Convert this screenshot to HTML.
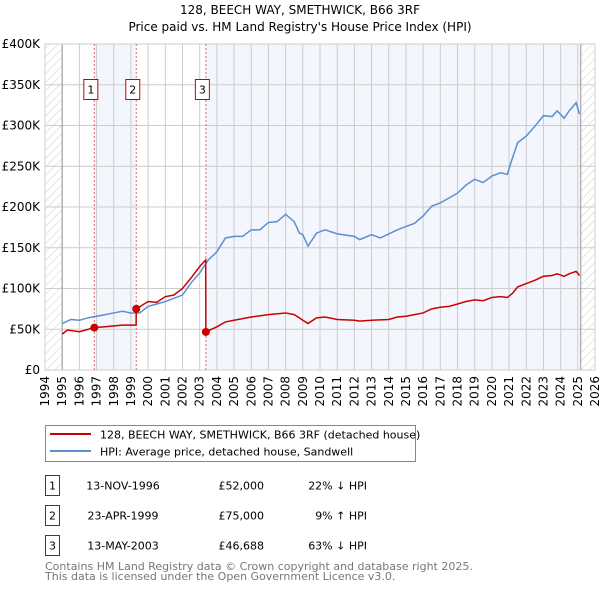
<!DOCTYPE html>
<html><head><meta charset="utf-8">
<style>
body{margin:0;background:#fff;font-family:"DejaVu Sans","Liberation Sans",sans-serif;}
svg text{font-family:"DejaVu Sans","Liberation Sans",sans-serif;}
</style></head>
<body>
<svg id="chart" width="600" height="590" xmlns="http://www.w3.org/2000/svg">
<defs>
<pattern id="hatch" width="6" height="6" patternUnits="userSpaceOnUse" patternTransform="rotate(45)">
<line x1="0" y1="0" x2="0" y2="6" stroke="#ccc" stroke-width="1"/>
</pattern>
</defs>
<text x="300" y="14" text-anchor="middle" font-size="12">128, BEECH WAY, SMETHWICK, B66 3RF</text>
<text x="300" y="31" text-anchor="middle" font-size="12">Price paid vs. HM Land Registry's House Price Index (HPI)</text>
<g id="plot"></g>
<g>
<rect x="45.5" y="425.5" width="370" height="36" fill="#fff" stroke="#888"/>
<line x1="50" y1="434" x2="91" y2="434" stroke="#cc0000" stroke-width="2"/>
<text x="100" y="438.5" font-size="11">128, BEECH WAY, SMETHWICK, B66 3RF (detached house)</text>
<line x1="50" y1="451" x2="91" y2="451" stroke="#5b8fd4" stroke-width="2"/>
<text x="100" y="455.5" font-size="11">HPI: Average price, detached house, Sandwell</text>
</g>
<g font-size="11">
<rect x="45.5" y="475.5" width="14" height="20" fill="#fff" stroke="#c00"/>
<text x="52.5" y="489.5" text-anchor="middle">1</text>
<text x="123" y="489.5" text-anchor="middle">13-NOV-1996</text>
<text x="264" y="489.5" text-anchor="end">£52,000</text>
<text x="367" y="489.5" text-anchor="end">22% ↓ HPI</text>
<rect x="45.5" y="505.5" width="14" height="20" fill="#fff" stroke="#c00"/>
<text x="52.5" y="519.5" text-anchor="middle">2</text>
<text x="123" y="519.5" text-anchor="middle">23-APR-1999</text>
<text x="264" y="519.5" text-anchor="end">£75,000</text>
<text x="367" y="519.5" text-anchor="end">9% ↑ HPI</text>
<rect x="45.5" y="535.5" width="14" height="20" fill="#fff" stroke="#c00"/>
<text x="52.5" y="549.5" text-anchor="middle">3</text>
<text x="123" y="549.5" text-anchor="middle">13-MAY-2003</text>
<text x="264" y="549.5" text-anchor="end">£46,688</text>
<text x="367" y="549.5" text-anchor="end">63% ↓ HPI</text>
</g>
<text x="45" y="570" font-size="11" fill="#777">Contains HM Land Registry data © Crown copyright and database right 2025.</text>
<text x="45" y="580" font-size="11" fill="#777">This data is licensed under the Open Government Licence v3.0.</text>
</svg>
<script>
const yTicks=[0,50,100,150,200,250,300,350,400];
const yTickLabels=["£0","£50K","£100K","£150K","£200K","£250K","£300K","£350K","£400K"];
const xYears=[1994,1995,1996,1997,1998,1999,2000,2001,2002,2003,2004,2005,2006,2007,2008,2009,2010,2011,2012,2013,2014,2015,2016,2017,2018,2019,2020,2021,2022,2023,2024,2025,2026];
const hpiT=[1995,1995.5,1996,1996.5,1997,1997.5,1998,1998.5,1999,1999.5,2000,2000.5,2001,2001.5,2002,2002.5,2003,2003.5,2004,2004.5,2005,2005.5,2006,2006.5,2007,2007.5,2008,2008.5,2008.8,2009,2009.3,2009.8,2010.3,2011,2012,2012.3,2013,2013.5,2014,2014.5,2015,2015.5,2016,2016.5,2017,2017.5,2018,2018.5,2019,2019.5,2020,2020.5,2020.9,2021.1,2021.5,2022,2022.5,2023,2023.5,2023.8,2024.2,2024.5,2024.9,2025.1];
const hpiV=[57,62,61,64,66,68,70,72,70,70,78,81,84,88,92,107,119,135,145,162,164,164,172,172,181,182,191,182,168,166,152,168,172,167,164,160,166,162,167,172,176,180,189,201,205,211,217,227,234,230,238,242,240,254,279,287,299,312,311,318,309,318,328,314];
const redT=[1995,1995.3,1996,1996.87,1997.5,1998.5,1999.3,1999.31,2000,2000.5,2001,2001.5,2002,2002.5,2003,2003.35,2003.36,2004,2004.5,2005,2006,2007,2008,2008.5,2008.8,2009,2009.3,2009.8,2010.3,2011,2012,2012.3,2013,2014,2014.5,2015,2015.5,2016,2016.5,2017,2017.5,2018,2018.5,2019,2019.5,2020,2020.5,2020.9,2021.2,2021.5,2022,2022.5,2023,2023.5,2023.8,2024.2,2024.5,2024.9,2025.1];
const redV=[44,49,47,52,53,55,55,75,84,83,90,92,100,113,127,135,46.7,53,59,61,65,68,70,68,64,61,57,64,65,62,61,60,61,62,65,66,68,70,75,77,78,81,84,86,85,89,90,89,94,102,106,110,115,116,118,115,118,121,116];
const saleLabels=["1","2","3"];
const saleT=[1996.87,1999.31,2003.36];
const saleV=[52,75,46.688];

const L=45,R=595,T=44,B=370;
const X=t=>L+(t-1994)/(2026-1994)*(R-L);
const Y=v=>B-v/400*(B-T);
const NS="http://www.w3.org/2000/svg";
const g=document.getElementById('plot');
function mk(tag,attrs,parent){const e=document.createElementNS(NS,tag);for(const k in attrs)e.setAttribute(k,attrs[k]);(parent||g).appendChild(e);return e;}

mk('rect',{x:L,y:T,width:R-L,height:B-T,fill:'#fff'});
let b=mk('rect',{x:X(saleT[0]),y:T,width:X(saleT[1])-X(saleT[0]),height:B-T,fill:'#f3f6fd'});


b=mk('rect',{x:X(saleT[2]),y:T,width:X(2025.17)-X(saleT[2]),height:B-T,fill:'#f3f6fd'});


let h=mk('rect',{x:L,y:T,width:X(1995)-L,height:B-T,fill:'url(#hatch)'});


h=mk('rect',{x:X(2025.17),y:T,width:R-X(2025.17),height:B-T,fill:'url(#hatch)'});



xYears.forEach(yr=>{
  const ln=mk('line',{x1:X(yr),x2:X(yr),y1:T,y2:B,stroke:'#ccc','stroke-width':1});
  
  
  const tx=mk('text',{x:0,y:0,'font-size':12,'text-anchor':'end',transform:`translate(${X(yr)+4},${B+6}) rotate(-90)`});
  tx.textContent=yr;
  
  
});
yTicks.forEach((v,i)=>{
  const ln=mk('line',{x1:L,x2:R,y1:Y(v),y2:Y(v),stroke:'#ccc','stroke-width':1});
  
  
  const tx=mk('text',{x:40,y:Y(v)+4,'font-size':12,'text-anchor':'end'});
  tx.textContent=yTickLabels[i];
  
  
});
let ax=mk('line',{x1:X(1995),x2:X(1995),y1:T,y2:B,stroke:'#999'});


ax=mk('line',{x1:X(2025.17),x2:X(2025.17),y1:T,y2:B,stroke:'#999'});


mk('rect',{x:L,y:T,width:R-L,height:B-T,fill:'none',stroke:'#ccc'});

saleT.forEach((t,i)=>{
  const ln=mk('line',{x1:X(t),x2:X(t),y1:T,y2:B,stroke:'#e66','stroke-width':1,'stroke-dasharray':'2,2'});
  
  
});

const hp=mk('polyline',{points:hpiT.map((t,i)=>X(t)+','+Y(hpiV[i])).join(' '),fill:'none',stroke:'#5b8fd4','stroke-width':1.5});


const rp=mk('polyline',{points:redT.map((t,i)=>X(t)+','+Y(redV[i])).join(' '),fill:'none',stroke:'#cc0000','stroke-width':1.5});



saleT.forEach((t,i)=>{
  const c=mk('circle',{cx:X(t),cy:Y(saleV[i]),r:4,fill:'#cc0000'});
  
  
  const bx=mk('rect',{x:X(t)-10.5,y:79.5,width:14,height:20,fill:'#fff',stroke:'#c00'});
  
  
  const tx=mk('text',{x:X(t)-3.5,y:93.5,'font-size':11,'text-anchor':'middle'});
  tx.textContent=saleLabels[i];
  
  
});
</script>
</body></html>
